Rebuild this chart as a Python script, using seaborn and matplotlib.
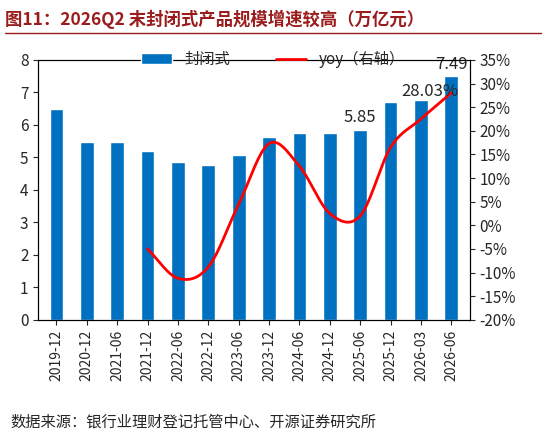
import numpy as np
import matplotlib
matplotlib.use("Agg")
import matplotlib.pyplot as plt
import seaborn as sns

periods = ["2019-12", "2020-12", "2021-06", "2021-12", "2022-06", "2022-12", "2023-06",
           "2023-12", "2024-06", "2024-12", "2025-06", "2025-12", "2026-03", "2026-06"]
scale = [6.48, 5.47, 5.47, 5.21, 4.85, 4.78, 5.07, 5.62, 5.74, 5.74, 5.85, 6.71, 6.78, 7.49]
yoy_periods = periods[3:]
yoy = [-5.0, -11.2, -8.8, 4.5, 17.3, 12.5, 2.5, 2.0, 16.5, 22.5, 28.03]

sns.set_style("ticks")
plt.rcParams['font.family'] = ['Noto Sans CJK SC', 'DejaVu Sans']

fig = plt.figure(figsize=(5.46, 4.37), dpi=100)
ax = fig.add_axes([0.07, 0.268, 0.79, 0.595])
sns.barplot(x=periods, y=scale, color="#0070c0", saturation=1, width=0.45, ax=ax, label="封闭式")
ax.set_ylim(0, 8)
ax.set_xlim(-0.6, len(periods) - 0.4)
ax.tick_params(axis='x', rotation=90, labelsize=10)
ax.tick_params(axis='y', labelsize=11)
for i in (10, 13):
    ax.text(i, scale[i] + 0.12, f"{scale[i]:.2f}", ha='center', va='bottom', fontsize=12)

ax2 = ax.twinx()
# smooth curve through the yoy points (Catmull-Rom, for drawing only)
px = np.arange(3, len(periods), dtype=float)
py = np.array(yoy)
xs, ys = [], []
P = np.vstack([px, py]).T
P = np.vstack([2 * P[0] - P[1], P, 2 * P[-1] - P[-2]])
for k in range(1, len(P) - 2):
    t = np.linspace(0, 1, 20)[:, None]
    p0, p1, p2, p3 = P[k - 1], P[k], P[k + 1], P[k + 2]
    seg = 0.5 * (2 * p1 + (-p0 + p2) * t + (2 * p0 - 5 * p1 + 4 * p2 - p3) * t ** 2
                 + (-p0 + 3 * p1 - 3 * p2 + p3) * t ** 3)
    xs.extend(seg[:, 0]); ys.extend(seg[:, 1])
sns.lineplot(x=xs, y=ys, color="red", linewidth=2, ax=ax2, label="yoy（右轴）", sort=False)
ax2.set_ylim(-20, 35)
ax2.set_yticks(range(-20, 36, 5))
ax2.set_yticklabels([f"{v}%" for v in range(-20, 36, 5)], fontsize=11)
ax2.text(12.3, yoy[-1] - 1.5, f"{yoy[-1]:.2f}%", ha='center', va='bottom', fontsize=12)

ax2.get_legend().remove()
h1, l1 = ax.get_legend_handles_labels()
h2, l2 = ax2.get_legend_handles_labels()
if ax.get_legend():
    ax.get_legend().remove()
fig.legend(h1 + h2, l1 + l2, ncol=2, frameon=False, loc='upper center',
           bbox_to_anchor=(0.5, 0.915), fontsize=11, columnspacing=3)

for a in (ax, ax2):
    for s in a.spines.values():
        s.set_color("black")

fig.text(0.01, 0.955, "图11：2026Q2 末封闭式产品规模增速较高（万亿元）", fontsize=12.5,
         fontweight='bold', color="#9b1c1c", va='center')
fig.add_artist(plt.Line2D([0.01, 0.99], [0.925, 0.925], color="#9b1c1c", lw=1))
fig.text(0.02, 0.035, "数据来源：银行业理财登记托管中心、开源证券研究所", fontsize=11, va='center')

fig.savefig("out.png", dpi=100)
